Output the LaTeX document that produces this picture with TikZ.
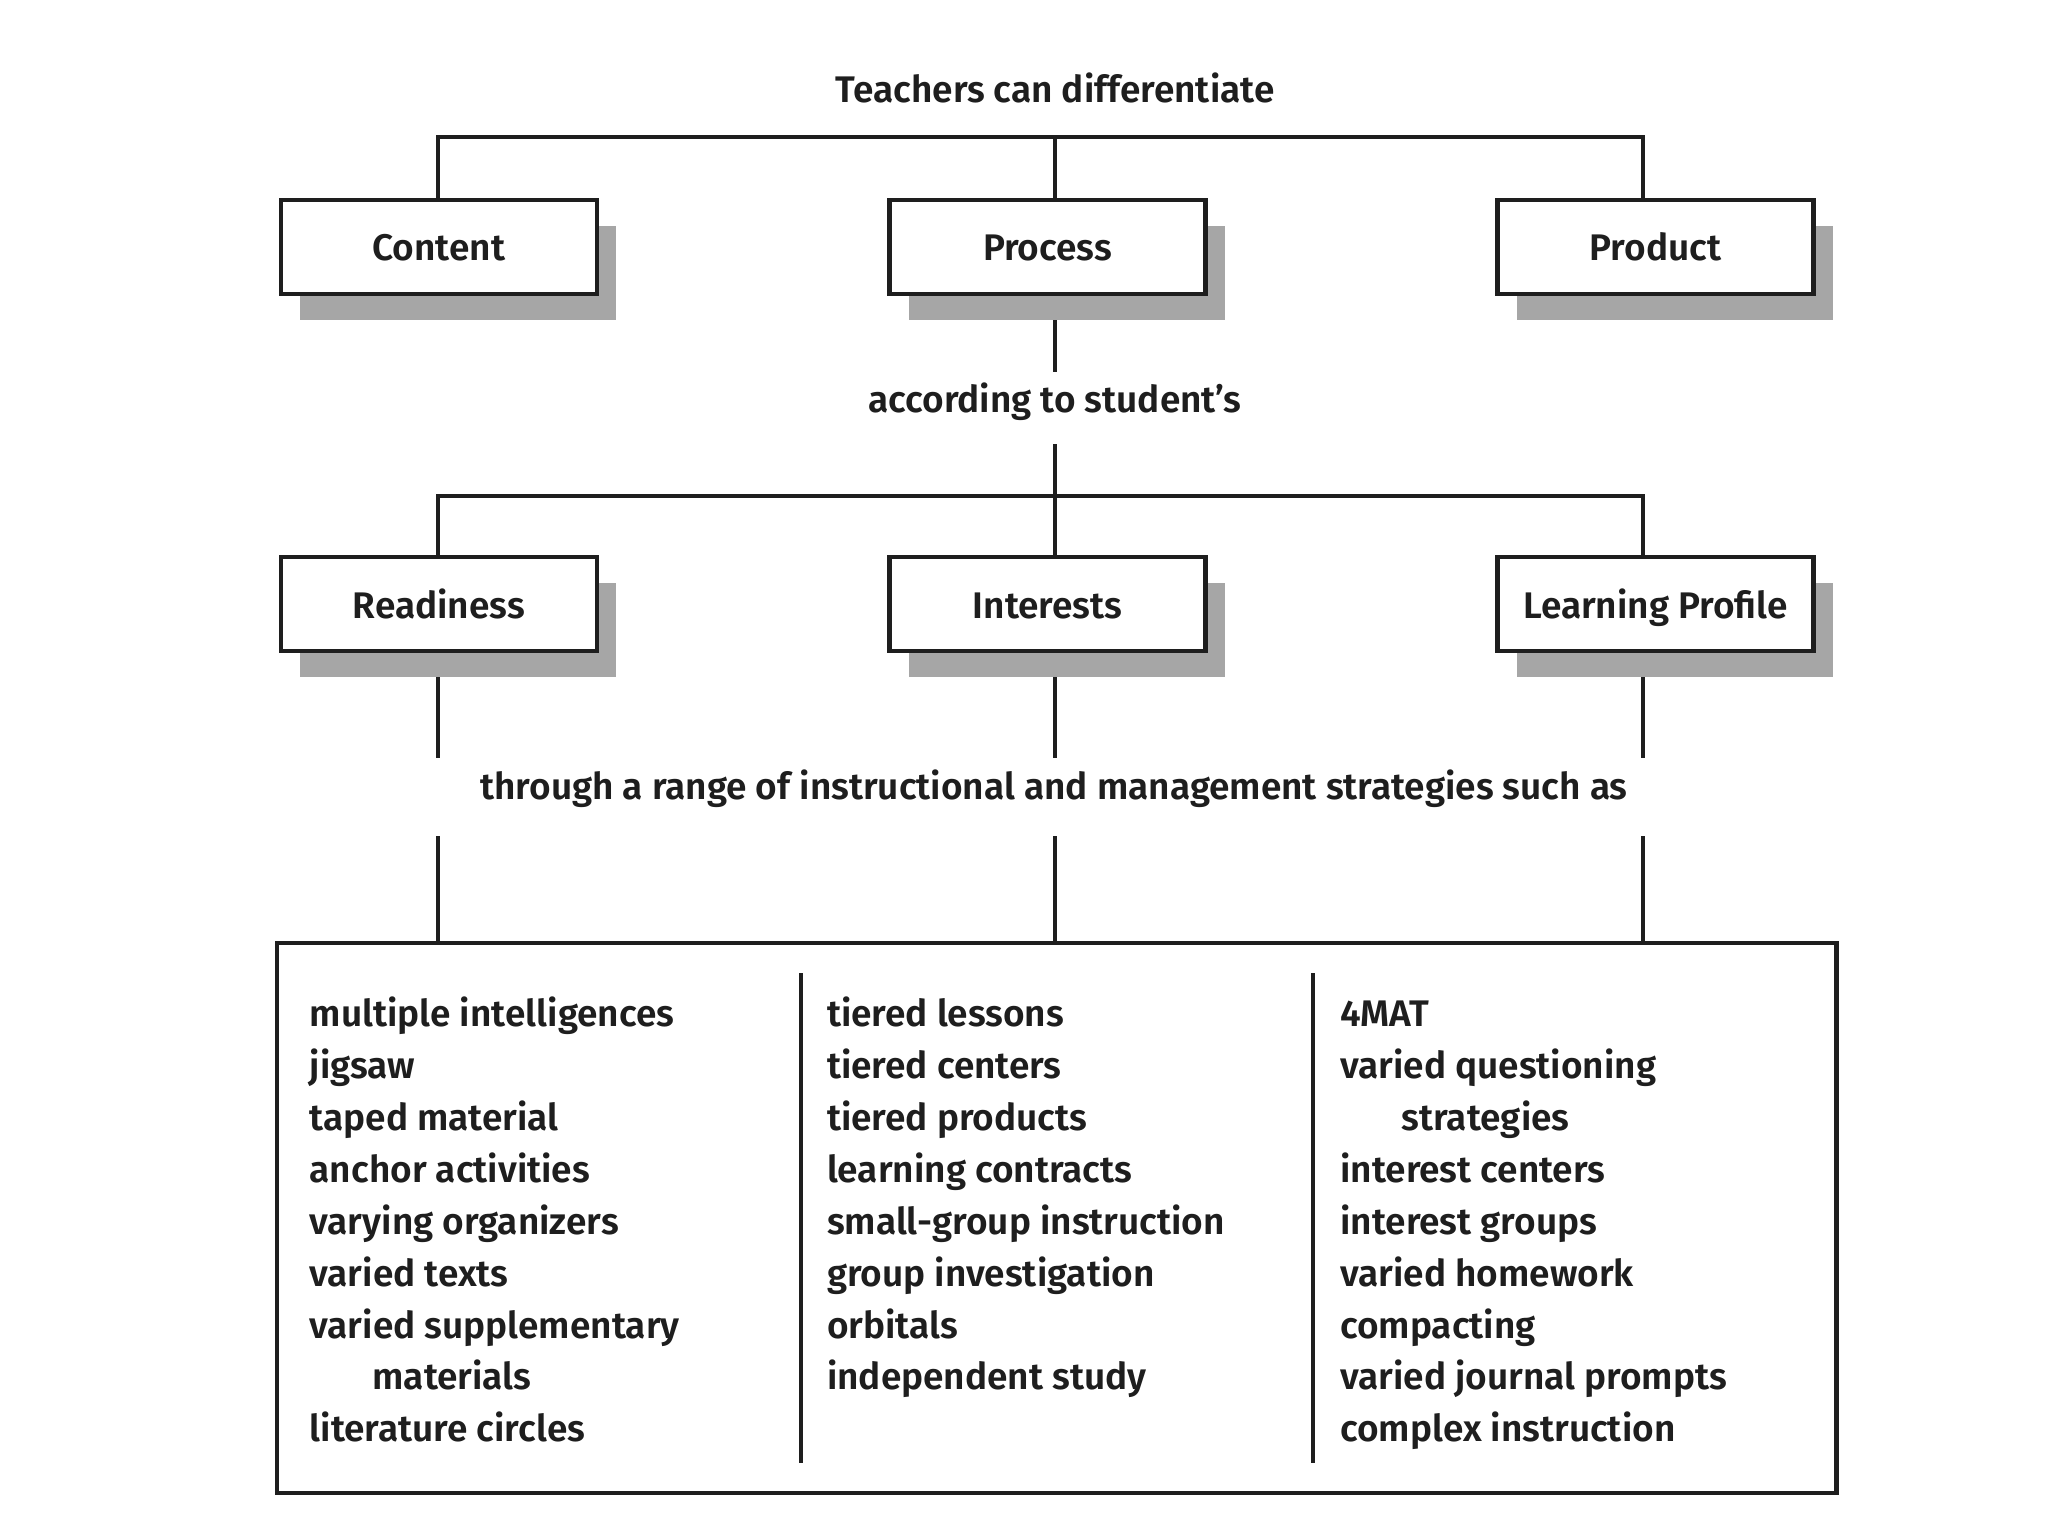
\documentclass[tikz,border=0pt]{standalone}
\usepackage{fontspec}
\setmainfont{Fira Sans}[BoldFont={Fira Sans SemiBold}]
\usetikzlibrary{shadows}
\definecolor{shadowgray}{HTML}{A6A6A6}
\definecolor{ink}{HTML}{1E1E1E}
\begin{document}
\begin{tikzpicture}[x=1pt,y=-1pt,
  txt/.style={font=\fontsize{37}{52}\selectfont\bfseries, text=ink, inner sep=0pt},
  box/.style={draw=ink, line width=4.5pt, fill=white, minimum width=316pt, minimum height=94pt,
    inner sep=0pt, outer sep=0pt, font=\fontsize{37}{46}\selectfont\bfseries, text=ink,
    text height=32pt, text depth=4pt,
    general shadow={fill=shadowgray, shadow xshift=19.6pt, shadow yshift=-26pt}},
  conn/.style={draw=ink, line width=4pt},
  item/.style={txt, anchor=base west}
]
\useasboundingbox (0,0) rectangle (2048,1536);

% title
\node[txt] (title) at (1055,87.5) {Teachers can differentiate};

% row 1
\node[box] (content) at (438.8,246.9) {Content};
\node[box] (process) at (1047.5,246.9) {Process};
\node[box] (product) at (1655.5,246.9) {Product};

\coordinate (t1) at (437.6,137);
\coordinate (t2) at (1055.3,137);
\coordinate (t3) at (1643.1,137);
\draw[conn] (t1 |- content.north) -- (t1) -- (t3) -- (t3 |- product.north);
\draw[conn] (t2) -- (t2 |- process.north);

% according to
\node[txt] (acc) at (1055,402) {according to student’s};
\coordinate (m1) at (1055.3,320);
\coordinate (m2) at (1055.3,372);
\coordinate (m3) at (1055.3,444);
\coordinate (b1) at (437.6,496);
\coordinate (b2) at (1055.3,496);
\coordinate (b3) at (1643.1,496);
\draw[conn] (m1) -- (m2);
\draw[conn] (m3) -- (b2);

% row 2
\node[box] (readiness) at (438.8,604) {Readiness};
\node[box] (interests) at (1047.5,604) {Interests};
\node[box] (profile) at (1655.5,604) {Learning Profile};
\draw[conn] (b1 |- readiness.north) -- (b1) -- (b3) -- (b3 |- profile.north);
\draw[conn] (b2) -- (b2 |- interests.north);

% through
\node[txt] (through) at (1054,789) {through a range of instructional and management strategies such as};

% big box
\node[draw=ink, line width=4.5pt, minimum width=1559.5pt, minimum height=550pt, inner sep=0pt, outer sep=0pt] (big) at (1056.65,1217.95) {};

\foreach \x/\n in {437.6/1,1055.3/2,1643.1/3}{
  \coordinate (u\n) at (\x,677);
  \coordinate (v\n) at (\x,757.6);
  \coordinate (w\n) at (\x,836);
  \draw[conn] (u\n) -- (v\n);
  \draw[conn] (w\n) -- (w\n |- big.north);
}

% separators
\coordinate (s1a) at (800.6,973);
\coordinate (s1b) at (800.6,1463);
\coordinate (s2a) at (1312.7,973);
\coordinate (s2b) at (1312.7,1463);
\draw[conn] (s1a) -- (s1b);
\draw[conn] (s2a) -- (s2b);

% column 1
\foreach \t [count=\i] in {multiple intelligences, jigsaw, taped material, anchor activities,
  varying organizers, varied texts, varied supplementary, {\hspace*{62.7pt}materials}, literature circles}
  \node[item] (ca\i) at (309.5,{1026.6+51.9*(\i-1)}) {\t};

% column 2
\foreach \t [count=\i] in {tiered lessons, tiered centers, tiered products, learning contracts,
  small-group instruction, group investigation, orbitals, independent study}
  \node[item] (cb\i) at (826.8,{1026.6+51.9*(\i-1)}) {\t};

% column 3
\foreach \t [count=\i] in {4MAT, varied questioning, {\hspace*{61.4pt}strategies}, interest centers,
  interest groups, varied homework, compacting, varied journal prompts, complex instruction}
  \node[item] (cc\i) at (1340.1,{1026.6+51.9*(\i-1)}) {\t};

\end{tikzpicture}
\end{document}
